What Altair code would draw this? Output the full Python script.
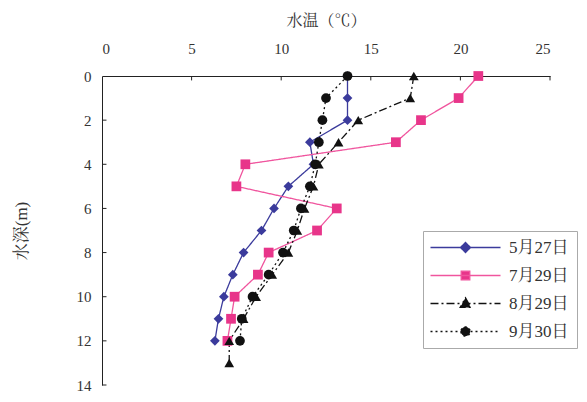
import altair as alt
import pandas as pd

# ---- data ----
series = ["5月27日", "7月29日", "8月29日", "9月30日"]
depth_0527 = [0, 1, 2, 3, 4, 5, 6, 7, 8, 9, 10, 11, 12]
temp_0527 = [13.7, 13.7, 13.7, 11.6, 11.8, 10.4, 9.6, 8.9, 7.9, 7.3, 6.8, 6.5, 6.3]
depth_0729 = [0, 1, 2, 3, 4, 5, 6, 7, 8, 9, 10, 11, 12]
temp_0729 = [21.0, 19.9, 17.8, 16.4, 8.0, 7.5, 13.1, 12.0, 9.3, 8.7, 7.4, 7.2, 7.0]
depth_0829 = [0, 1, 2, 3, 4, 5, 6, 7, 8, 9, 10, 11, 12, 13]
temp_0829 = [17.4, 17.2, 14.3, 13.2, 12.1, 11.8, 11.3, 10.9, 10.4, 9.5, 8.6, 7.9, 7.1, 7.1]
depth_0930 = [0, 1, 2, 3, 4, 5, 6, 7, 8, 9, 10, 11, 12]
temp_0930 = [13.7, 12.5, 12.3, 12.1, 11.9, 11.6, 11.1, 10.7, 10.1, 9.3, 8.4, 7.8, 7.7]

x_ticks = [0, 5, 10, 15, 20, 25]
y_ticks = [0, 2, 4, 6, 8, 10, 12, 14]

# ---- styles ----
line_colors = ["#3b3b9c", "#f0559e", "#111111", "#111111"]
marker_colors = ["#3b3b9c", "#e8358a", "#111111", "#111111"]
dashes = [[1, 0], [1, 0], [8, 3, 2, 3], [2, 3]]
shapes = ["diamond", "square", "triangle-up", "circle"]
legend_paths = [
    "M-4.95,0H4.95M0,-0.7L0.7,0L0,0.7L-0.7,0Z",
    "M-4.95,0H4.95M-0.6,-0.6H0.6V0.6H-0.6Z",
    "M-4.95,0H4.95M0,-0.8L0.75,0.55H-0.75Z",
    "M-4.95,0H4.95M-0.65,0A0.65,0.65 0 1,0 0.65,0A0.65,0.65 0 1,0 -0.65,0Z",
]
FONT = "Liberation Serif, Noto Serif CJK SC, Noto Sans CJK SC"

rows = []
for name, ds, ts in zip(series, [depth_0527, depth_0729, depth_0829, depth_0930],
                        [temp_0527, temp_0729, temp_0829, temp_0930]):
    for d, t in zip(ds, ts):
        rows.append({"date": name, "depth": d, "temp": t})
df = pd.DataFrame(rows)

xscale = alt.Scale(domain=[0, 25], nice=False, zero=False)
yscale = alt.Scale(domain=[0, 14], reverse=True, nice=False)

x_enc = alt.X("temp:Q", scale=xscale,
              axis=alt.Axis(orient="top", values=x_ticks, title="水温（℃）",
                            grid=False, tickSize=0, labelPadding=20,
                            titlePadding=13, domainColor="#222",
                            labelFontSize=15, titleFontSize=16,
                            labelFont=FONT, titleFont=FONT,
                            labelColor="#333", titleColor="#333",
                            titleFontWeight="normal"))
y_enc = alt.Y("depth:Q", scale=yscale,
              axis=alt.Axis(values=y_ticks, title="水深(m)", grid=False,
                            tickSize=0, labelPadding=11, titlePadding=46,
                            domainColor="#222", labelFontSize=15,
                            titleFontSize=17, labelFont=FONT, titleFont=FONT,
                            labelColor="#333", titleColor="#333",
                            titleFontWeight="normal"))

lines = alt.Chart(df).mark_line(strokeWidth=1.3).encode(
    x=x_enc, y=y_enc,
    color=alt.Color("date:N", scale=alt.Scale(domain=series, range=line_colors), legend=None),
    strokeDash=alt.StrokeDash("date:N", scale=alt.Scale(domain=series, range=dashes), legend=None),
    order=alt.Order("depth:Q"),
)

points = alt.Chart(df).mark_point(filled=True, opacity=1, size=95).encode(
    x="temp:Q", y="depth:Q",
    color=alt.Color("date:N", scale=alt.Scale(domain=series, range=marker_colors), legend=None),
    shape=alt.Shape("date:N", scale=alt.Scale(domain=series, range=shapes), legend=None),
)

# inward tick marks
xt = pd.DataFrame({"t": x_ticks[1:]})
xtick_layer = alt.Chart(xt).mark_rule(color="#222", strokeWidth=1).encode(
    x="t:Q", y=alt.datum(0), y2=alt.datum(0.2))
yt = pd.DataFrame({"t": y_ticks[1:]})
ytick_layer = alt.Chart(yt).mark_rule(color="#222", strokeWidth=1).encode(
    y="t:Q", x=alt.datum(0), x2=alt.datum(0.25))

# legend layer (clipped out of view, drives the legend only)
leg_df = pd.DataFrame({"date": series, "temp": [-5] * 4, "depth": [1] * 4})
legend_layer = alt.Chart(leg_df).mark_point(filled=True, opacity=1, clip=True, size=200,
                                             strokeWidth=1.4).encode(
    x="temp:Q", y="depth:Q",
    color=alt.Color("date:N", scale=alt.Scale(domain=series, range=marker_colors),
                    legend=alt.Legend(title=None, orient="none", legendX=321, legendY=155,
                                      symbolSize=200, labelFont=FONT, labelFontSize=17,
                                      labelColor="#333", strokeColor="#aaa", padding=8,
                                      rowPadding=10, symbolOffset=26, labelOffset=35,
                                      symbolStrokeWidth=1.4)),
    stroke=alt.Stroke("date:N", scale=alt.Scale(domain=series, range=line_colors)),
    shape=alt.Shape("date:N", scale=alt.Scale(domain=series, range=legend_paths)),
    strokeDash=alt.StrokeDash("date:N", scale=alt.Scale(domain=series, range=dashes)),
)

chart = alt.layer(lines, xtick_layer, ytick_layer, points, legend_layer).resolve_scale(
    color="independent", shape="independent", strokeDash="independent", stroke="independent"
).properties(
    width=448, height=309,
    autosize=alt.AutoSizeParams(type="none"),
    padding={"left": 94, "top": 68, "right": 29, "bottom": 9},
    background="white",
).configure_view(stroke=None)

chart.save("out.html", embed_options={"renderer": "svg", "actions": False})
